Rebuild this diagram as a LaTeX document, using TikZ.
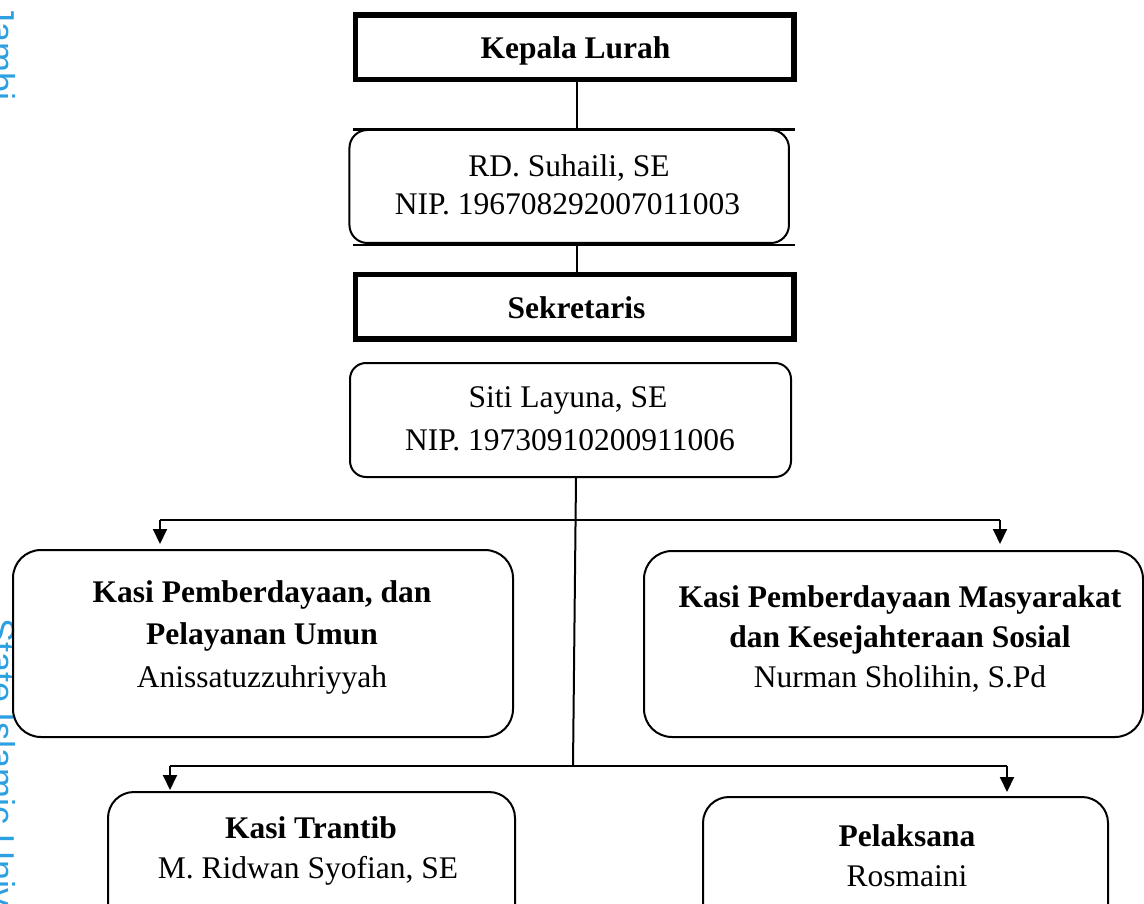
\documentclass[tikz,border=0pt]{standalone}
\usepackage{fontspec}
\setmainfont{Liberation Serif}
\newfontfamily\wmfont{Liberation Sans}
\usetikzlibrary{arrows.meta}
\definecolor{wmblue}{RGB}{45,160,225}
\tikzset{
  thickbox/.style={draw, line width=5.2pt, rectangle, inner sep=0pt},
  rbox/.style={draw, line width=2pt, rectangle, rounded corners=#1, inner sep=0pt},
  rbox/.default=20pt,
  conn/.style={draw, line width=2pt},
  arr/.style={draw, line width=2pt, -{Triangle[length=15pt,width=14pt]}},
  lbl/.style={anchor=base, inner sep=0pt, font=\fontsize{31.5}{38}\selectfont},
  blbl/.style={lbl, font=\fontsize{31.5}{38}\selectfont\bfseries},
  wm/.style={rotate=-90, anchor=base west, inner sep=0pt, text=wmblue, font=\wmfont\fontsize{36}{40}\selectfont}
}
\begin{document}
\begin{tikzpicture}[x=1pt, y=-1pt]
\useasboundingbox (0,0) rectangle (1144,904);
\clip (0,0) rectangle (1144,904);
\fill[white] (0,0) rectangle (1144,904);

% watermark fragments (cut by the left edge, as in the reference)
\node[wm] (wm1) at (-10,4) {Jambi};
\node[wm] (wm2) at (-10,618) {State Islamic University};

% boxes
\node[thickbox, minimum width=438.7pt, minimum height=64.5pt] (kepala) at (574.7,47.2) {};
\node[rectangle, inner sep=0pt, minimum width=442pt, minimum height=115pt] (rdframe) at (574,187.5) {};
\node[rbox=18pt, minimum width=439.5pt, minimum height=113pt] (rd) at (569.2,186.5) {};
\node[thickbox, minimum width=438.7pt, minimum height=64.7pt] (sek) at (574.7,306.7) {};
\node[rbox=16pt, minimum width=441pt, minimum height=114pt] (siti) at (570.5,420) {};
\node[rbox=28pt, minimum width=500pt, minimum height=187pt] (left) at (263,643.5) {};
\node[rbox=28pt, minimum width=499pt, minimum height=186pt] (right) at (893.5,644) {};
\node[rbox=26pt, minimum width=407pt, minimum height=150pt] (trantib) at (311.5,867) {};
\node[rbox=26pt, minimum width=405pt, minimum height=145pt] (pel) at (905.5,869.5) {};

% frame lines around RD box
\draw[line width=2.6pt] (rdframe.north west) -- (rdframe.north east);
\draw[line width=2.6pt] (rdframe.south west) -- (rdframe.south east);

% texts
\node[blbl] (t1) at (575.5,58.5) {Kepala Lurah};
\node[lbl] (t2) at (569,177) {RD. Suhaili, SE};
\node[lbl] (t3) at (567.5,215) {NIP. 196708292007011003};
\node[blbl] (t4) at (576.5,319) {Sekretaris};
\node[lbl] (t5) at (568,407) {Siti Layuna, SE};
\node[lbl] (t6) at (570,450) {NIP. 19730910200911006};
\node[blbl] (t7) at (262,602) {Kasi Pemberdayaan, dan};
\node[blbl] (t8) at (262,644) {Pelayanan Umun};
\node[lbl] (t9) at (262,687) {Anissatuzzuhriyyah};
\node[blbl] (t10) at (900,607) {Kasi Pemberdayaan Masyarakat};
\node[blbl] (t11) at (900,647) {dan Kesejahteraan Sosial};
\node[lbl] (t12) at (900,687) {Nurman Sholihin, S.Pd};
\node[blbl] (t13) at (311,838) {Kasi Trantib};
\node[lbl] (t14) at (308,878) {M. Ridwan Syofian, SE};
\node[blbl] (t15) at (907,846) {Pelaksana};
\node[lbl] (t16) at (907,886) {Rosmaini};

% connectors
\draw[conn] ([xshift=2.3pt]kepala.south) -- ([xshift=2.3pt]kepala.south |- rdframe.north);
\draw[conn] ([xshift=2.3pt]kepala.south |- rdframe.south) -- ([xshift=2.3pt]sek.north);

\coordinate (b1L) at (160,520);
\coordinate (b1R) at (1000,520);
\coordinate (j2) at (573,766);
\coordinate (b2L) at (170,766);
\coordinate (b2R) at (1007,766);

\draw[conn] ([xshift=5.5pt]siti.south) -- (j2);
\draw[conn] (b1L) -- (b1R);
\draw[arr, shorten >=5pt] (b1L) -- (b1L |- left.north);
\draw[arr, shorten >=6pt] (b1R) -- (b1R |- right.north);
\draw[conn] (b2L) -- (b2R);
\draw[arr, shorten >=1pt] (b2L) -- (b2L |- trantib.north);
\draw[arr, shorten >=4pt] (b2R) -- (b2R |- pel.north);
\end{tikzpicture}
\end{document}
